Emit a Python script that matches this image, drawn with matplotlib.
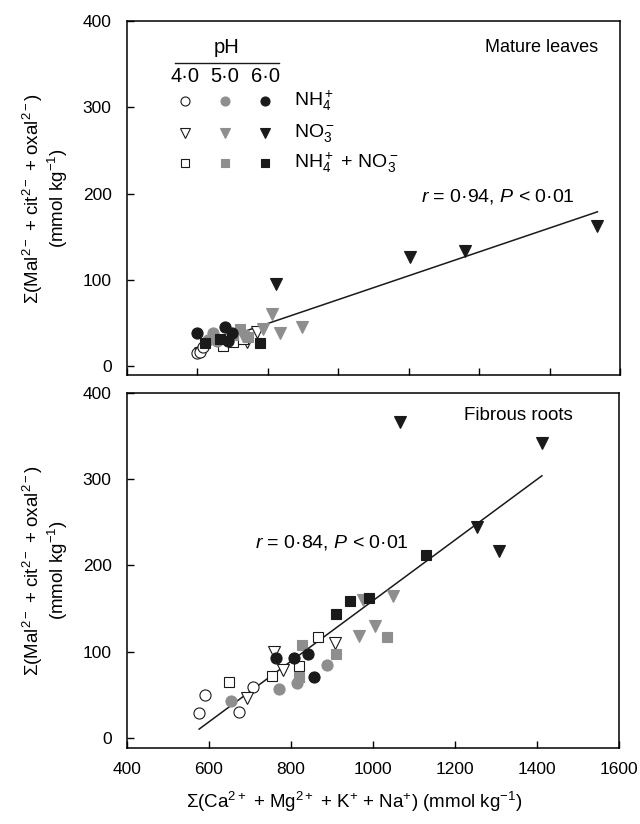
import matplotlib
matplotlib.use("Agg")
import matplotlib.pyplot as plt
import numpy as np

plt.rcParams['font.family'] = ['Liberation Sans', 'DejaVu Sans']
plt.rcParams['mathtext.fontset'] = 'custom'
plt.rcParams['mathtext.rm'] = 'Liberation Sans'
plt.rcParams['mathtext.it'] = 'Liberation Sans:italic'
NARROW = ['Liberation Sans Narrow', 'Liberation Sans']

# ---- data: mature leaves (top) ----
leaf_nh4_ph4 = [(600, 15), (607, 16), (615, 22)]
leaf_nh4_ph5 = [(630, 30), (644, 39), (655, 29)]
leaf_nh4_ph6 = [(599, 39), (678, 45), (698, 39), (687, 29)]
leaf_no3_ph4 = [(700, 30), (740, 28), (769, 40)]
leaf_no3_ph5 = [(730, 35), (786, 43), (811, 60), (834, 39), (897, 46)]
leaf_no3_ph6 = [(823, 95), (1203, 127), (1359, 134), (1736, 163)]
leaf_mix_ph4 = [(673, 23), (700, 28), (730, 32)]
leaf_mix_ph5 = [(700, 36), (720, 43), (743, 34)]
leaf_mix_ph6 = [(621, 27), (664, 32), (777, 27)]
leaf_fit = (0.1382, -60.97)
leaf_fit_x = [593, 1736]

# ---- data: fibrous roots (bottom) ----
root_nh4_ph4 = [(576, 29), (590, 49), (672, 30), (707, 59)]
root_nh4_ph5 = [(654, 43), (771, 57), (815, 64), (887, 84)]
root_nh4_ph6 = [(763, 92), (807, 92), (841, 97), (856, 70)]
root_no3_ph4 = [(692, 46), (759, 100), (780, 79), (907, 110)]
root_no3_ph5 = [(966, 118), (976, 160), (1005, 130), (1049, 165)]
root_no3_ph6 = [(1066, 366), (1254, 245), (1307, 217), (1412, 342)]
root_mix_ph4 = [(649, 65), (754, 72), (819, 83), (866, 117)]
root_mix_ph5 = [(819, 70), (826, 108), (910, 97), (1034, 117)]
root_mix_ph6 = [(910, 144), (944, 159), (990, 162), (1129, 212)]
root_fit = (0.3517, -192.6)
root_fit_x = [576, 1412]

ph_labels = ['4·0', '5·0', '6·0']
n_labels = [r'NH$_4^+$', r'NO$_3^-$', r'NH$_4^+$ + NO$_3^-$']

GRAY = '#8e8e8e'
BLACK = '#1a1a1a'
face = ['white', GRAY, BLACK]
edge = [BLACK, GRAY, BLACK]
marks = ['o', 'v', 's']
msize = [8, 9, 7.5]

fig = plt.figure(figsize=(6.4, 8.24), dpi=100)
ax1 = fig.add_axes([0.1984, 0.545, 0.7703, 0.4295])
ax2 = fig.add_axes([0.1984, 0.0922, 0.7688, 0.4308])

def draw(ax, groups, fit, fitx):
    fx = np.array(fitx)
    ax.plot(fx, fit[0] * fx + fit[1], color=BLACK, lw=1.1, zorder=1)
    for i, row in enumerate(groups):
        for j, pts in enumerate(row):
            xs = [p[0] for p in pts]
            ys = [p[1] for p in pts]
            ax.plot(xs, ys, ls='none', marker=marks[i], ms=msize[i],
                    mfc=face[j], mec=edge[j], mew=0.8, zorder=2 + j)

draw(ax1, [[leaf_nh4_ph4, leaf_nh4_ph5, leaf_nh4_ph6],
           [leaf_no3_ph4, leaf_no3_ph5, leaf_no3_ph6],
           [leaf_mix_ph4, leaf_mix_ph5, leaf_mix_ph6]], leaf_fit, leaf_fit_x)
draw(ax2, [[root_nh4_ph4, root_nh4_ph5, root_nh4_ph6],
           [root_no3_ph4, root_no3_ph5, root_no3_ph6],
           [root_mix_ph4, root_mix_ph5, root_mix_ph6]], root_fit, root_fit_x)

ax1.set_xlim(400, 1800)
ax1.set_xticks(np.arange(400, 1801, 200))
ax1.set_xticklabels([])
ax1.set_ylim(-10, 400)
ax2.set_xlim(400, 1600)
ax2.set_xticks(np.arange(400, 1601, 200))
ax2.set_ylim(-12, 400)

ylab = 'Σ(Mal$^{2-}$ + cit$^{2-}$ + oxal$^{2-}$)\n(mmol kg$^{-1}$)'
for ax in (ax1, ax2):
    ax.set_yticks([0, 100, 200, 300, 400])
    ax.tick_params(direction='in', length=5, width=1, labelsize=12.5)
    ax.tick_params(axis='y', pad=11)
    ax.tick_params(axis='x', pad=10)
    for lab in ax.get_xticklabels() + ax.get_yticklabels():
        lab.set_family(NARROW)
    for s in ax.spines.values():
        s.set_linewidth(1.1)
    ax.set_ylabel(ylab, fontsize=13.5, family=NARROW, labelpad=9, linespacing=1.05)

ax2.set_xlabel('Σ(Ca$^{2+}$ + Mg$^{2+}$ + K$^{+}$ + Na$^{+}$) (mmol kg$^{-1}$)',
               fontsize=13.5, labelpad=9)
ax2.xaxis.label.set_x(0.462)

ax1.text(0.955, 0.925, 'Mature leaves', transform=ax1.transAxes, ha='right',
         va='center', fontsize=13)
ax2.text(0.906, 0.938, 'Fibrous roots', transform=ax2.transAxes, ha='right',
         va='center', fontsize=13.5)
ax1.text(0.753, 0.503, r'$r$ = 0·94, $P$ < 0·01', transform=ax1.transAxes,
         ha='center', va='center', fontsize=14)
ax2.text(0.417, 0.58, r'$r$ = 0·84, $P$ < 0·01', transform=ax2.transAxes,
         ha='center', va='center', fontsize=14)

# pH key
t = ax1.transAxes
ax1.text(0.203, 0.924, 'pH', transform=t, ha='center', va='center', fontsize=14.5)
ax1.plot([0.097, 0.308], [0.881, 0.881], transform=t, color=BLACK, lw=1)
kx = [0.118, 0.198, 0.280]
ky = [0.774, 0.684, 0.599]
for j, lab in enumerate(ph_labels):
    ax1.text(kx[j], 0.842, lab, transform=t, ha='center', va='center', fontsize=14.5)
for i in range(3):
    for j in range(3):
        ax1.plot([kx[j]], [ky[i]], transform=t, ls='none', marker=marks[i],
                 ms=msize[i] - 1.5, mfc=face[j], mec=edge[j], mew=0.8, clip_on=False)
    ax1.text(0.339, ky[i], n_labels[i], transform=t, ha='left', va='center', fontsize=14)

fig.savefig('out.png', dpi=100)
